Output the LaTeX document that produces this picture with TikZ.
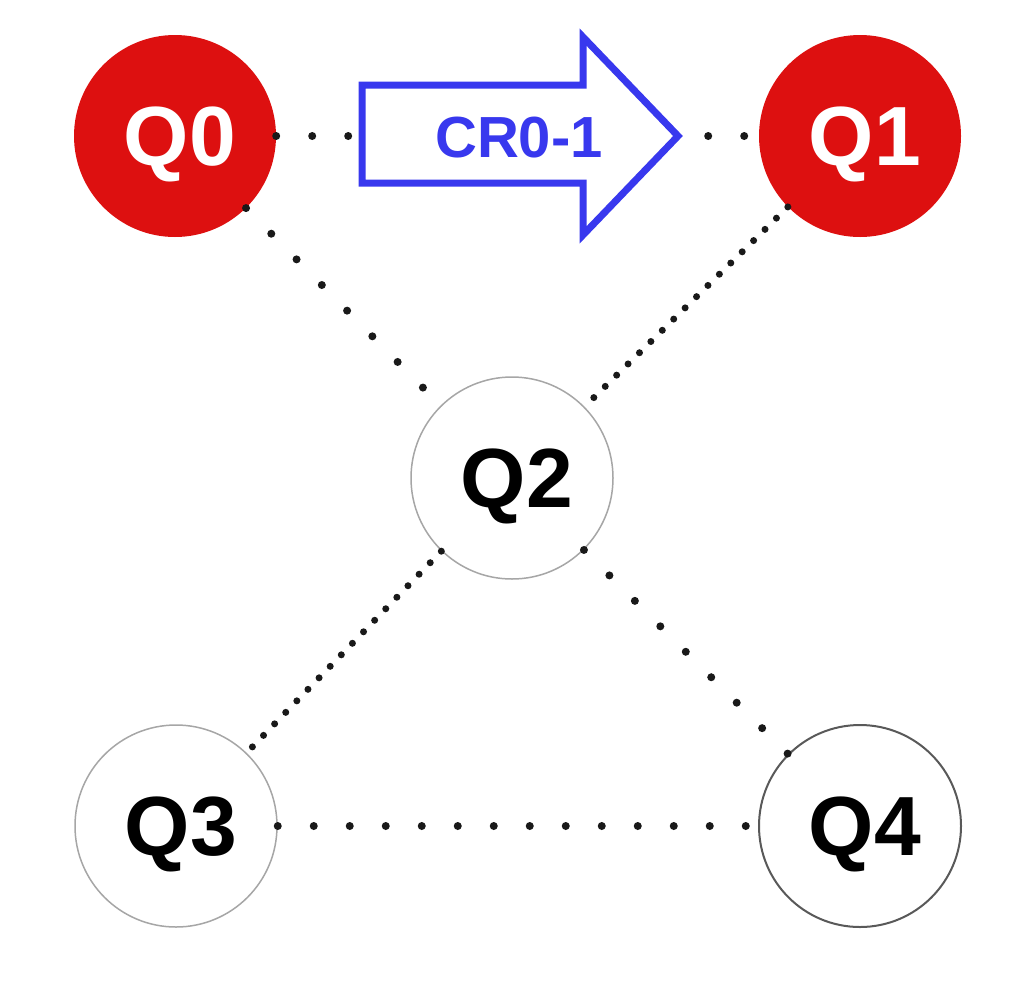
\documentclass[tikz,border=0pt]{standalone}
\usepackage{fontspec}
\setmainfont{Liberation Sans}
\definecolor{qred}{HTML}{DD1010}
\definecolor{qblue}{HTML}{3838EE}
\begin{document}
\begin{tikzpicture}[x=1pt,y=-1pt,
  qbit/.style={circle,minimum size=202pt,inner sep=0pt,text depth=0pt,font=\fontsize{84}{84}\selectfont\bfseries},
  redq/.style={qbit,fill=qred,text=white},
  whiteq/.style={qbit,fill=white,draw=black!35,line width=1.5pt},
  darkq/.style={qbit,fill=white,draw=black!65,line width=2pt},
  sparse/.style={line width=8pt,line cap=round,dash pattern=on 0pt off 36pt,black!90},
  dense/.style={line width=7pt,line cap=round,dash pattern=on 0pt off 16pt,black!90},
  bigarrow/.style={draw=qblue,line width=7pt,fill=white,line join=miter}]
\useasboundingbox (0,0) rectangle (1024,983);
\node[redq] (q0) at (175,136) {\hspace*{10pt}Q0};
\node[redq] (q1) at (860,136) {\hspace*{10pt}Q1};
\node[whiteq] (q2) at (512,478) {\hspace*{10pt}Q2};
\node[whiteq] (q3) at (176,826) {\hspace*{10pt}Q3};
\node[darkq] (q4) at (860,826) {\hspace*{10pt}Q4};
\draw[sparse] (q0) -- (q1);
\draw[sparse] (q0) -- (q2);
\draw[dense] (q1) -- (q2);
\draw[dense] (q2) -- (q3);
\draw[sparse] (q2) -- (q4);
\draw[sparse] (q3) -- (q4);
\draw[bigarrow] (362,85) -- (583,85) -- (583,37) -- (678,136) -- (583,235) -- (583,183) -- (362,183) -- cycle;
\node[text=qblue,font=\fontsize{58}{58}\selectfont\bfseries] (cr) at (519,138) {CR0-1};
\end{tikzpicture}
\end{document}
